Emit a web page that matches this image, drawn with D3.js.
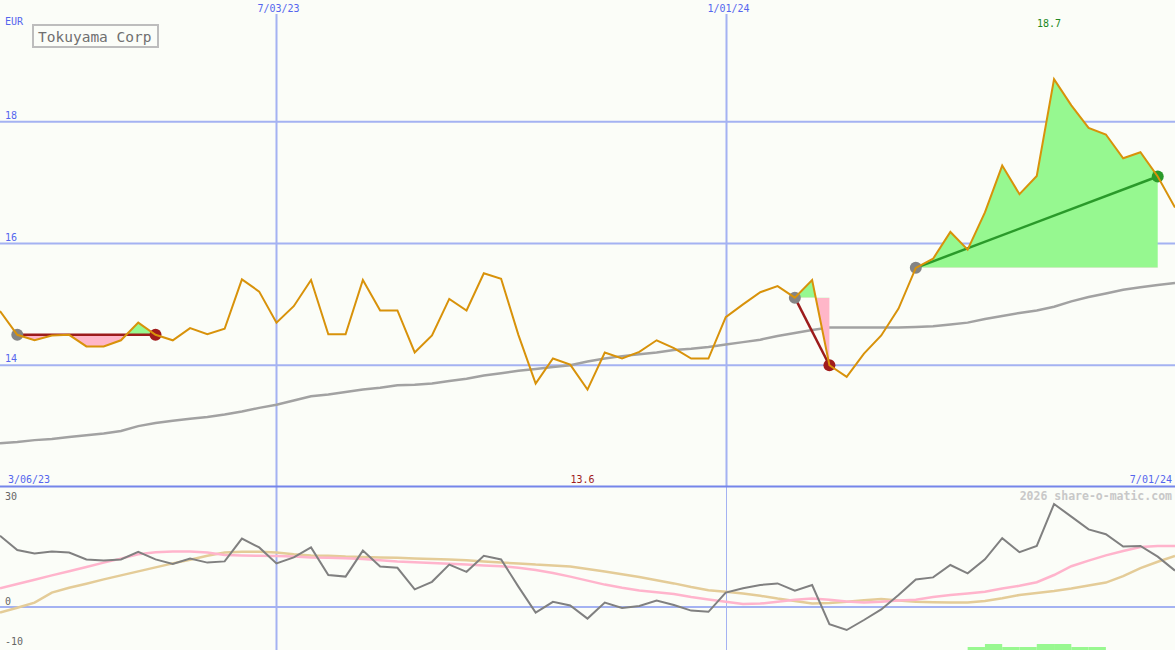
<!DOCTYPE html>
<html>
<head>
<meta charset="utf-8">
<script src="https://cdn.jsdelivr.net/npm/d3@7/dist/d3.min.js"></script>
<style>
  html, body { margin: 0; padding: 0; background: #fbfdf8; }
  svg { display: block; }
  text { font-family: "DejaVu Sans Mono", monospace; }
</style>
</head>
<body>
<div class="chart"></div>
<script>
// weekly closes, 13 Mar 2023 .. 1 Jul 2024
var price = [14.89, 14.50, 14.41, 14.49, 14.50, 14.31, 14.31, 14.41, 14.70, 14.50,
             14.41, 14.61, 14.51, 14.60, 15.41, 15.21, 14.70, 14.97, 15.40, 14.51,
             14.51, 15.40, 14.90, 14.90, 14.21, 14.49, 15.09, 14.90, 15.51, 15.42,
             14.50, 13.70, 14.11, 14.01, 13.60, 14.21, 14.11, 14.22, 14.41, 14.28,
             14.11, 14.11, 14.79, 15.00, 15.20, 15.30, 15.11, 15.40, 14.00, 13.81,
             14.19, 14.49, 14.93, 15.60, 15.75, 16.19, 15.90, 16.51, 17.28, 16.81,
             17.11, 18.70, 18.27, 17.90, 17.79, 17.40, 17.50, 17.10, 16.59];

var avg = [12.72, 12.74, 12.77, 12.79, 12.82, 12.85, 12.88, 12.92, 13.00, 13.05,
           13.09, 13.12, 13.15, 13.19, 13.24, 13.30, 13.35, 13.42, 13.49, 13.52,
           13.56, 13.60, 13.63, 13.67, 13.68, 13.70, 13.74, 13.78, 13.83, 13.87,
           13.91, 13.94, 13.97, 14.00, 14.06, 14.11, 14.15, 14.18, 14.21, 14.25,
           14.27, 14.30, 14.34, 14.38, 14.42, 14.48, 14.53, 14.58, 14.62, 14.62,
           14.62, 14.62, 14.62, 14.63, 14.64, 14.67, 14.70, 14.76, 14.81, 14.86,
           14.90, 14.96, 15.05, 15.12, 15.18, 15.24, 15.28, 15.32, 15.35];

// lower panel
var momentum = [17.8, 14.25, 13.4, 13.9, 13.6, 11.9, 11.6, 11.9, 13.8, 11.9,
                10.75, 12.1, 11.1, 11.4, 17.1, 14.9, 10.9, 12.4, 14.9, 8.0,
                7.6, 14.1, 10.1, 9.8, 4.4, 6.3, 10.6, 8.8, 12.8, 11.9,
                5.1, -1.4, 1.3, 0.4, -2.9, 1.1, -0.25, 0.25, 1.6, 0.5,
                -0.9, -1.2, 3.6, 4.7, 5.5, 5.9, 4.1, 5.5, -4.3, -5.75,
                -3.25, -0.6, 3.0, 6.9, 7.4, 10.5, 8.4, 11.9, 17.2, 13.7,
                15.25, 25.75, 22.6, 19.4, 18.2, 15.1, 15.25, 12.6, 9.1];

var fast = [4.7, 5.75, 6.8, 7.9, 8.95, 10.0, 11.1, 12.1, 13.2, 13.7,
            13.9, 13.9, 13.6, 13.0, 12.9, 12.8, 12.75, 12.6, 12.4, 12.3,
            12.2, 12.0, 11.7, 11.4, 11.2, 11.0, 10.8, 10.6, 10.4, 10.2,
            9.8, 9.25, 8.5, 7.6, 6.6, 5.6, 4.8, 4.1, 3.7, 3.25,
            2.5, 1.9, 1.3, 0.75, 0.85, 1.3, 1.8, 2.1, 1.8, 1.4,
            1.1, 1.3, 1.6, 1.8, 2.5, 3.0, 3.4, 3.8, 4.6, 5.3,
            6.2, 8.0, 10.2, 11.6, 12.9, 14.0, 15.0, 15.25, 15.25];

var slow = [-1.4, -0.2, 1.1, 3.6, 4.8, 5.8, 6.9, 7.9, 8.9, 9.9,
            10.9, 11.8, 12.8, 13.6, 13.8, 13.8, 13.6, 13.2, 12.9, 12.8,
            12.6, 12.5, 12.4, 12.3, 12.15, 12.0, 11.9, 11.7, 11.4, 11.1,
            10.9, 10.6, 10.4, 10.1, 9.5, 8.9, 8.2, 7.5, 6.7, 5.9,
            5.0, 4.2, 3.8, 3.4, 2.8, 2.1, 1.5, 0.9, 1.0, 1.3,
            1.7, 2.0, 1.6, 1.3, 1.2, 1.1, 1.1, 1.5, 2.2, 3.0,
            3.5, 4.0, 4.6, 5.4, 6.1, 7.7, 9.7, 11.3, 12.75];

var signal = [0,0,0,0,0,0,0,0,0,0, 0,0,0,0,0,0,0,0,0,0,
              0,0,0,0,0,0,0,0,0,0, 0,0,0,0,0,0,0,0,0,0,
              0,0,0,0,0,0,0,0,0,0, 0,0,0,0,0,0,1,2,1,1,
              2,2,1,1,0,0,0,0,0];

// trades: entry / exit week index
var tradeEntry = [1, 46, 53];
var tradeExit = [9, 48, 67];
var tradeWin = [false, false, true];

var priceTicks = [18, 16, 14];
var lowerTicks = [30, 0, -10];
var gridDates = ["2023-07-03", "2024-01-01"];
var startLabel = "3/06/23";
var endLabel = "7/01/24";
var currency = "EUR";
var title = "Tokuyama Corp";
var credit = "2026 share-o-matic.com";

var width = 1175, height = 650;
var mainBottom = 487;

var parse = d3.timeParse("%Y-%m-%d");
var fmt = d3.timeFormat("%-m/%d/%y");
var weeks = d3.timeMonday.range(new Date(2023, 2, 13), new Date(2024, 6, 2));

var x = d3.scaleTime().domain([weeks[0], weeks[weeks.length - 1]]).range([0, width]);
var y = d3.scaleLinear().domain([12, 20]).range([mainBottom, 0]);
var y2 = d3.scaleLinear().domain([-10.75, 30]).range([height, mainBottom]);
var barH = d3.scaleLinear().domain([0, 1]).range([0, 3]);

var svg = d3.select(".chart").append("svg")
    .attr("width", width).attr("height", height);

svg.append("rect").attr("width", width).attr("height", height).attr("fill", "#fbfdf8");

// grid
svg.selectAll(".hgrid").data(priceTicks).enter().append("line")
    .attr("x1", 0).attr("x2", width)
    .attr("y1", function(d) { return y(d); }).attr("y2", function(d) { return y(d); })
    .attr("stroke", "#a4b2f2").attr("stroke-width", 2);

svg.append("line").attr("x1", 0).attr("x2", width)
    .attr("y1", y2(0)).attr("y2", y2(0))
    .attr("stroke", "#a4b2f2").attr("stroke-width", 2);

gridDates.forEach(function(s, i) {
  var gx = Math.round(x(parse(s))) + 0.5;
  svg.append("line").attr("x1", gx).attr("x2", gx).attr("y1", 14).attr("y2", mainBottom)
      .attr("stroke", "#a4b2f2").attr("stroke-width", 2);
  svg.append("line").attr("x1", gx).attr("x2", gx).attr("y1", mainBottom).attr("y2", height)
      .attr("stroke", "#a4b2f2").attr("stroke-width", i == 0 ? 2 : 1);
  svg.append("text").attr("x", gx + 2).attr("y", 12)
      .attr("text-anchor", "middle").attr("font-size", 10).attr("fill", "#5566ee")
      .text(fmt(parse(s)));
});

svg.append("line").attr("x1", 0).attr("x2", width)
    .attr("y1", mainBottom - 0.5).attr("y2", mainBottom - 0.5)
    .attr("stroke", "#7585ea").attr("stroke-width", 2);

// axis labels
svg.selectAll(".ptick").data(priceTicks).enter().append("text")
    .attr("x", 5).attr("y", function(d) { return y(d) - 3; })
    .attr("font-size", 10).attr("fill", "#5566ee")
    .text(function(d) { return d; });

svg.selectAll(".ltick").data(lowerTicks).enter().append("text")
    .attr("x", 5).attr("y", function(d) { return d == 30 ? y2(d) + 13 : y2(d) - 2; })
    .attr("font-size", 10).attr("fill", "#666")
    .text(function(d) { return d; });

svg.append("text").attr("x", 5).attr("y", 25).attr("font-size", 10).attr("fill", "#5566ee").text(currency);
svg.append("text").attr("x", 8).attr("y", 483).attr("font-size", 10).attr("fill", "#5566ee").text(startLabel);
svg.append("text").attr("x", 1172).attr("y", 483).attr("text-anchor", "end")
    .attr("font-size", 10).attr("fill", "#5566ee").text(endLabel);
svg.append("text").attr("x", 1172).attr("y", 500).attr("text-anchor", "end")
    .attr("font-size", 11.5).attr("font-weight", "bold").attr("fill", "#c8c8c8").text(credit);

// title box
svg.append("rect").attr("x", 33).attr("y", 25).attr("width", 125).attr("height", 22)
    .attr("fill", "#fbfdf8").attr("stroke", "#bdbdbd").attr("stroke-width", 2);
svg.append("text").attr("x", 38).attr("y", 42).attr("font-size", 14.5).attr("fill", "#707070").text(title);

// lower panel
var line2 = function(arr) {
  return d3.line().x(function(d, i) { return x(weeks[i]); }).y(function(d) { return y2(d); })(arr);
};

var step = x(weeks[1]) - x(weeks[0]);
signal.forEach(function(d, i) {
  if (d > 0) {
    svg.append("rect")
        .attr("x", x(weeks[i])).attr("width", step)
        .attr("y", height - barH(d)).attr("height", barH(d))
        .attr("fill", "#98f890");
  }
});

svg.append("path").attr("d", line2(slow)).attr("fill", "none").attr("stroke", "#e4cc98").attr("stroke-width", 2.5);
svg.append("path").attr("d", line2(fast)).attr("fill", "none").attr("stroke", "#ffb4cc").attr("stroke-width", 2.5);
svg.append("path").attr("d", line2(momentum)).attr("fill", "none").attr("stroke", "#808080").attr("stroke-width", 2);

// main panel
var mainLine = d3.line().x(function(d, i) { return x(weeks[i]); }).y(function(d) { return y(d); });

svg.append("path").attr("d", mainLine(avg)).attr("fill", "none").attr("stroke", "#a2a2a2").attr("stroke-width", 2.5);

var defs = svg.append("defs");
tradeEntry.forEach(function(e, t) {
  var ex = tradeExit[t];
  var yl = y(price[e]);
  defs.append("clipPath").attr("id", "up" + t).append("rect")
      .attr("x", 0).attr("y", 0).attr("width", width).attr("height", yl);
  defs.append("clipPath").attr("id", "dn" + t).append("rect")
      .attr("x", 0).attr("y", yl).attr("width", width).attr("height", mainBottom - yl);
  var idx = d3.range(e, ex + 1);
  var area = d3.area()
      .x(function(i) { return x(weeks[i]); })
      .y0(yl)
      .y1(function(i) { return y(price[i]); });
  svg.append("path").attr("d", area(idx)).attr("fill", "#96f890").attr("clip-path", "url(#up" + t + ")");
  svg.append("path").attr("d", area(idx)).attr("fill", "#ffb6c8").attr("clip-path", "url(#dn" + t + ")");
});

tradeEntry.forEach(function(e, t) {
  var ex = tradeExit[t];
  svg.append("line")
      .attr("x1", x(weeks[e])).attr("y1", y(price[e]))
      .attr("x2", x(weeks[ex])).attr("y2", y(price[ex]))
      .attr("stroke", tradeWin[t] ? "#2a9a2a" : "#9c1c1c")
      .attr("stroke-width", 2.5);
  svg.append("circle").attr("cx", x(weeks[e])).attr("cy", y(price[e])).attr("r", 6).attr("fill", "#848484");
  svg.append("circle").attr("cx", x(weeks[ex])).attr("cy", y(price[ex])).attr("r", 6)
      .attr("fill", tradeWin[t] ? "#2a9a2a" : "#a01c1c");
});

svg.append("path").attr("d", mainLine(price)).attr("fill", "none").attr("stroke", "#d8920a").attr("stroke-width", 2);

// high / low labels
var hi = d3.maxIndex(price), lo = d3.minIndex(price);
svg.append("text").attr("x", x(weeks[hi]) - 5).attr("y", 27).attr("text-anchor", "middle")
    .attr("font-size", 10).attr("fill", "#228822").text(price[hi].toFixed(1));
svg.append("text").attr("x", x(weeks[lo]) - 5).attr("y", 483).attr("text-anchor", "middle")
    .attr("font-size", 10).attr("fill", "#a01c1c").text(price[lo].toFixed(1));
</script>
</body>
</html>
